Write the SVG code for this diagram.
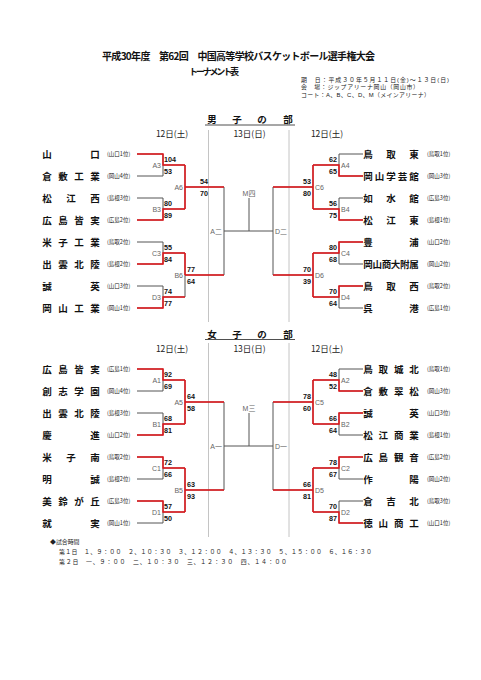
<svg xmlns="http://www.w3.org/2000/svg" width="481" height="680" viewBox="0 0 481 680">
<style>
.g{stroke:#555;stroke-width:1;fill:none}
.r{stroke:#e5161b;stroke-width:1.5;fill:none}
.v{stroke:#b5b5b5;stroke-width:0.8;fill:none}
.u{stroke:#222;stroke-width:0.8}
.tm{font-family:"Noto Sans CJK JP",sans-serif;font-size:9.5px;font-weight:bold;text-anchor:middle;fill:#111}
.pf{font-family:"Noto Sans CJK JP",sans-serif;font-size:5.5px;fill:#222}
.sc{font-family:"Liberation Sans",sans-serif;font-size:7.2px;font-weight:bold;fill:#111}
.e{text-anchor:end}
.lb{font-family:"Liberation Sans","Noto Sans CJK JP",sans-serif;font-size:7px;fill:#666}
.hd{font-family:"Noto Sans CJK JP",sans-serif;font-size:8.5px;fill:#222;text-anchor:middle}
.sec{font-family:"Noto Sans CJK JP",sans-serif;font-size:9.5px;font-weight:bold;fill:#111;text-anchor:middle}
.tt{font-family:"Noto Sans CJK JP",sans-serif;font-weight:bold;fill:#111}
.in{font-family:"Liberation Sans","Noto Sans CJK JP",sans-serif;font-size:5.9px;fill:#222}
</style>

<g id="title">
<text class="tt" x="102" y="60" font-size="10" textLength="273">平成30年度　第62回　中国高等学校バスケットボール選手権大会</text>
<text class="tt" x="189" y="75" font-size="9" textLength="50">トーナメント表</text>
</g>
<g id="info">
<text class="in" x="301" y="82" textLength="148">期　日：平成３０年５月１１日(金)～１３日(日)</text>
<text class="in" x="301" y="89.3" textLength="118">会　場：ジップアリーナ岡山（岡山市）</text>
<text class="in" x="301" y="96.6" textLength="129">コート：A、B、C、D、M（メインアリーナ）</text>
</g>

<g id="dividers">
<path class="v" d="M208.5,130V322M289,130V322M208.5,343V537M289,343V537"/>
<path class="u" d="M205,125H295M205,339.5H295"/>
</g>
<g id="headers">
<text class="sec" x="212 237 262 288" y="123">男子の部</text>
<text class="sec" x="212 237 262 288" y="337.5">女子の部</text>
<text class="hd" x="172" y="137">12日(土)</text>
<text class="hd" x="249.5" y="137">13日(日)</text>
<text class="hd" x="327" y="137">12日(土)</text>
<text class="hd" x="172" y="352">12日(土)</text>
<text class="hd" x="249.5" y="352">13日(日)</text>
<text class="hd" x="327" y="352">12日(土)</text>
</g>

<g id="connectors">
<path class="g" d="M137,154H163M137,176H163M163,154V176M137,198H163M137,220H163M163,198V220M163,165H185M163,209H185M185,165V209M185,187H224
M137,242H163M137,264H163M163,242V264M137,286H163M137,308H163M163,286V308M163,253H185M163,297H185M185,253V297M185,275H224
M224,187V275M224,231H273M249,198V231M273,187V275
M339,154H363M339,176H363M339,154V176M339,198H363M339,220H363M339,198V220M313,165H339M313,209H339M313,165V209M273,187H313
M339,242H363M339,264H363M339,242V264M339,286H363M339,308H363M339,286V308M313,253H339M313,297H339M313,253V297M273,275H313"/>
<path class="g" d="M137,369H163M137,391H163M163,369V391M137,413H163M137,435H163M163,413V435M163,380H185M163,424H185M185,380V424M185,402H224
M137,457H163M137,479H163M163,457V479M137,501H163M137,523H163M163,501V523M163,468H185M163,512H185M185,468V512M185,490H224
M224,402V490M224,446H273M249,413V446M273,402V490
M339,369H363M339,391H363M339,369V391M339,413H363M339,435H363M339,413V435M313,380H339M313,424H339M313,380V424M273,402H313
M339,457H363M339,479H363M339,457V479M339,501H363M339,523H363M339,501V523M313,468H339M313,512H339M313,468V512M273,490H313"/>
<path class="r" d="M137,154H163V165H185M137,220H163V209H185M185,165V209M185,187H224
M137,264H163V253H185M137,308H163V297H185M185,253V275M185,275H224
M363,176H339V165H313M363,220H339V209H313M313,165V209M313,187H273
M363,242H339V253H313M363,286H339V297H313M313,253V297M313,275H273"/>
<path class="r" d="M137,369H163V380H185M137,435H163V424H185M185,380V424M185,402H224
M137,457H163V468H185M137,501H163V512H185M185,468V512M185,490H224
M363,391H339V380H313M363,413H339V424H313M313,380V424M313,402H273
M363,457H339V468H313M363,523H339V512H313M313,468V512M313,490H273"/>
</g>

<g id="m-l1"><text class="tm" x="47 95" y="157.6">山口</text><text class="pf" x="107" y="156">(山口1位)</text></g>
<g id="m-l2"><text class="tm" x="47 63 79 95" y="179.6">倉敷工業</text><text class="pf" x="107" y="178">(岡山4位)</text></g>
<g id="m-l3"><text class="tm" x="47 71 95" y="201.6">松江西</text><text class="pf" x="107" y="200">(島根3位)</text></g>
<g id="m-l4"><text class="tm" x="47 63 79 95" y="223.6">広島皆実</text><text class="pf" x="107" y="222">(広島2位)</text></g>
<g id="m-l5"><text class="tm" x="47 63 79 95" y="245.6">米子工業</text><text class="pf" x="107" y="244">(鳥取2位)</text></g>
<g id="m-l6"><text class="tm" x="47 63 79 95" y="267.6">出雲北陵</text><text class="pf" x="107" y="266">(島根2位)</text></g>
<g id="m-l7"><text class="tm" x="47 95" y="289.6">誠英</text><text class="pf" x="107" y="288">(山口3位)</text></g>
<g id="m-l8"><text class="tm" x="47 63 79 95" y="311.6">岡山工業</text><text class="pf" x="107" y="310">(岡山1位)</text></g>
<g id="m-r1"><text class="tm" x="368 391 414" y="157.6">鳥取東</text><text class="pf" x="427" y="156">(鳥取1位)</text></g>
<g id="m-r2"><text class="tm" x="368 379.5 391 402.5 414" y="179.6">岡山学芸館</text><text class="pf" x="427" y="178">(岡山3位)</text></g>
<g id="m-r3"><text class="tm" x="368 391 414" y="201.6">如水館</text><text class="pf" x="427" y="200">(広島3位)</text></g>
<g id="m-r4"><text class="tm" x="368 391 414" y="223.6">松江東</text><text class="pf" x="427" y="222">(島根1位)</text></g>
<g id="m-r5"><text class="tm" x="368 414" y="245.6">豊浦</text><text class="pf" x="427" y="244">(山口2位)</text></g>
<g id="m-r6"><text class="tm" x="368 377.2 386.4 395.6 404.8 414" y="267.6">岡山商大附属</text><text class="pf" x="427" y="266">(岡山2位)</text></g>
<g id="m-r7"><text class="tm" x="368 391 414" y="289.6">鳥取西</text><text class="pf" x="427" y="288">(鳥取2位)</text></g>
<g id="m-r8"><text class="tm" x="368 414" y="311.6">呉港</text><text class="pf" x="427" y="310">(広島1位)</text></g>
<g id="w-l1"><text class="tm" x="47 63 79 95" y="372.6">広島皆実</text><text class="pf" x="107" y="371">(広島1位)</text></g>
<g id="w-l2"><text class="tm" x="47 63 79 95" y="394.6">創志学園</text><text class="pf" x="107" y="393">(岡山4位)</text></g>
<g id="w-l3"><text class="tm" x="47 63 79 95" y="416.6">出雲北陵</text><text class="pf" x="107" y="415">(島根3位)</text></g>
<g id="w-l4"><text class="tm" x="47 95" y="438.6">慶進</text><text class="pf" x="107" y="437">(山口2位)</text></g>
<g id="w-l5"><text class="tm" x="47 71 95" y="460.6">米子南</text><text class="pf" x="107" y="459">(鳥取2位)</text></g>
<g id="w-l6"><text class="tm" x="47 95" y="482.6">明誠</text><text class="pf" x="107" y="481">(島根2位)</text></g>
<g id="w-l7"><text class="tm" x="47 63 79 95" y="504.6">美鈴が丘</text><text class="pf" x="107" y="503">(広島3位)</text></g>
<g id="w-l8"><text class="tm" x="47 95" y="526.6">就実</text><text class="pf" x="107" y="525">(岡山1位)</text></g>
<g id="w-r1"><text class="tm" x="368 383.3 398.7 414" y="372.6">鳥取城北</text><text class="pf" x="427" y="371">(鳥取1位)</text></g>
<g id="w-r2"><text class="tm" x="368 383.3 398.7 414" y="394.6">倉敷翠松</text><text class="pf" x="427" y="393">(岡山3位)</text></g>
<g id="w-r3"><text class="tm" x="368 414" y="416.6">誠英</text><text class="pf" x="427" y="415">(山口3位)</text></g>
<g id="w-r4"><text class="tm" x="368 383.3 398.7 414" y="438.6">松江商業</text><text class="pf" x="427" y="437">(島根1位)</text></g>
<g id="w-r5"><text class="tm" x="368 383.3 398.7 414" y="460.6">広島観音</text><text class="pf" x="427" y="459">(広島2位)</text></g>
<g id="w-r6"><text class="tm" x="368 414" y="482.6">作陽</text><text class="pf" x="427" y="481">(岡山2位)</text></g>
<g id="w-r7"><text class="tm" x="368 391 414" y="504.6">倉吉北</text><text class="pf" x="427" y="503">(鳥取3位)</text></g>
<g id="w-r8"><text class="tm" x="368 383.3 398.7 414" y="526.6">徳山商工</text><text class="pf" x="427" y="525">(山口1位)</text></g>

<g id="m-A3"><text class="lb e" x="161" y="167.5">A3</text><text class="sc" x="164" y="161.5">104</text><text class="sc" x="164" y="173.5">53</text></g>
<g id="m-B3"><text class="lb e" x="161" y="211.5">B3</text><text class="sc" x="164" y="205.5">80</text><text class="sc" x="164" y="217.5">89</text></g>
<g id="m-C3"><text class="lb e" x="161" y="255.5">C3</text><text class="sc" x="164" y="249.5">55</text><text class="sc" x="164" y="261.5">84</text></g>
<g id="m-D3"><text class="lb e" x="161" y="299.5">D3</text><text class="sc" x="164" y="293.5">74</text><text class="sc" x="164" y="305.5">77</text></g>
<g id="m-A6"><text class="lb e" x="183" y="189.5">A6</text><text class="sc" x="200" y="183.5">54</text><text class="sc" x="200" y="195.5">70</text></g>
<g id="m-B6"><text class="lb e" x="183" y="277.5">B6</text><text class="sc" x="187" y="271.5">77</text><text class="sc" x="187" y="283.5">64</text></g>
<g id="m-A4"><text class="lb" x="341" y="167.5">A4</text><text class="sc e" x="337" y="161.5">62</text><text class="sc e" x="337" y="173.5">65</text></g>
<g id="m-B4"><text class="lb" x="341" y="211.5">B4</text><text class="sc e" x="337" y="205.5">56</text><text class="sc e" x="337" y="217.5">75</text></g>
<g id="m-C4"><text class="lb" x="341" y="255.5">C4</text><text class="sc e" x="337" y="249.5">80</text><text class="sc e" x="337" y="261.5">68</text></g>
<g id="m-D4"><text class="lb" x="341" y="299.5">D4</text><text class="sc e" x="337" y="293.5">70</text><text class="sc e" x="337" y="305.5">64</text></g>
<g id="m-C6"><text class="lb" x="315" y="189.5">C6</text><text class="sc e" x="311" y="183.5">53</text><text class="sc e" x="311" y="195.5">80</text></g>
<g id="m-D6"><text class="lb" x="315" y="277.5">D6</text><text class="sc e" x="311" y="271.5">70</text><text class="sc e" x="311" y="283.5">39</text></g>
<g id="m-final"><text class="lb e" x="222" y="233.5">A二</text><text class="lb" x="275" y="233.5">D二</text><text class="lb" x="249" y="196" text-anchor="middle">M四</text></g>

<g id="w-A1"><text class="lb e" x="161" y="382.5">A1</text><text class="sc" x="164" y="376.5">92</text><text class="sc" x="164" y="388.5">69</text></g>
<g id="w-B1"><text class="lb e" x="161" y="426.5">B1</text><text class="sc" x="164" y="420.5">68</text><text class="sc" x="164" y="432.5">81</text></g>
<g id="w-C1"><text class="lb e" x="161" y="470.5">C1</text><text class="sc" x="164" y="464.5">72</text><text class="sc" x="164" y="476.5">66</text></g>
<g id="w-D1"><text class="lb e" x="161" y="514.5">D1</text><text class="sc" x="164" y="508.5">57</text><text class="sc" x="164" y="520.5">50</text></g>
<g id="w-A5"><text class="lb e" x="183" y="404.5">A5</text><text class="sc" x="187" y="398.5">64</text><text class="sc" x="187" y="410.5">58</text></g>
<g id="w-B5"><text class="lb e" x="183" y="492.5">B5</text><text class="sc" x="187" y="486.5">63</text><text class="sc" x="187" y="498.5">93</text></g>
<g id="w-A2"><text class="lb" x="341" y="382.5">A2</text><text class="sc e" x="337" y="376.5">48</text><text class="sc e" x="337" y="388.5">52</text></g>
<g id="w-B2"><text class="lb" x="341" y="426.5">B2</text><text class="sc e" x="337" y="420.5">66</text><text class="sc e" x="337" y="432.5">64</text></g>
<g id="w-C2"><text class="lb" x="341" y="470.5">C2</text><text class="sc e" x="337" y="464.5">78</text><text class="sc e" x="337" y="476.5">67</text></g>
<g id="w-D2"><text class="lb" x="341" y="514.5">D2</text><text class="sc e" x="337" y="508.5">70</text><text class="sc e" x="337" y="520.5">87</text></g>
<g id="w-C5"><text class="lb" x="315" y="404.5">C5</text><text class="sc e" x="311" y="398.5">78</text><text class="sc e" x="311" y="410.5">60</text></g>
<g id="w-D5"><text class="lb" x="315" y="492.5">D5</text><text class="sc e" x="311" y="486.5">66</text><text class="sc e" x="311" y="498.5">81</text></g>
<g id="w-final"><text class="lb e" x="222" y="448.5">A一</text><text class="lb" x="275" y="448.5">D一</text><text class="lb" x="249" y="411" text-anchor="middle">M三</text></g>

<g id="footer">
<text class="in" x="50" y="544">◆試合時間</text>
<text class="in" x="59" y="553.5" textLength="313">第１日　１、９：００　２、１０：３０　３、１２：００　４、１３：３０　５、１５：００　６、１６：３０</text>
<text class="in" x="59" y="563.5" textLength="228">第２日　一、９：００　二、１０：３０　三、１２：３０　四、１４：００</text>
</g>
</svg>
